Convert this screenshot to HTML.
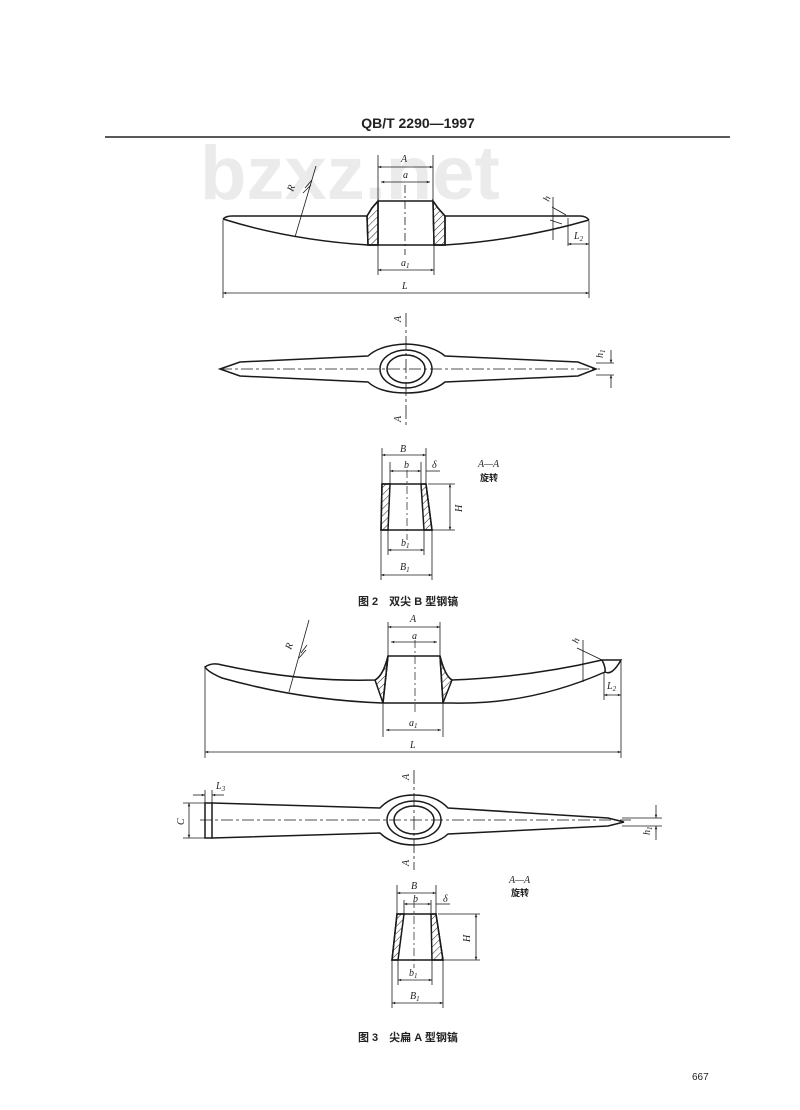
<!DOCTYPE html>
<html><head><meta charset="utf-8"><style>
html,body{margin:0;padding:0;background:#fff;}
svg{display:block;}
text{font-family:"Liberation Serif","Noto Serif CJK SC",serif;fill:#222;}
.i{font-style:italic;font-size:10px;}
.cn{font-family:"Liberation Sans","Noto Sans CJK SC",sans-serif;font-weight:bold;}
</style></head><body>
<svg width="800" height="1110" viewBox="0 0 800 1110" xmlns="http://www.w3.org/2000/svg">
<defs>
<pattern id="h" width="5" height="5" patternUnits="userSpaceOnUse" patternTransform="rotate(45)"><line x1="0" y1="0" x2="0" y2="5" stroke="#222" stroke-width="1"/></pattern>
<marker id="a" viewBox="0 0 10 10" refX="10" refY="5" markerWidth="5" markerHeight="4" orient="auto-start-reverse"><path d="M0,1 L10,5 L0,9z" fill="#222"/></marker>
</defs>
<rect width="800" height="1110" fill="#fff"/>
<text x="418" y="128" text-anchor="middle" font-size="14" font-weight="bold" style="font-family:'Liberation Sans',sans-serif">QB/T 2290—1997</text>
<line x1="105" y1="137" x2="730" y2="137" stroke="#222" stroke-width="1.4"/>
<text x="200" y="199" font-size="76" font-weight="bold" style="font-family:'Liberation Sans',sans-serif;fill:#ebebeb">bzxz.net</text>

<g fill="none" stroke="#1a1a1a" stroke-width="1.5">
<path d="M223,219 Q226,216 232,216 L367,216"/>
<path d="M223,219 Q290,240 368,245"/>
<path d="M445,216 L580,216 Q586,216 589,220"/>
<path d="M589,220 Q520,240 445,245"/>
<line x1="368" y1="245" x2="445" y2="245"/>
<path d="M367,216 L372,208 L378,201 L433,201 L438,208 L445,216 L445,245 L434,245 L433,201 M378,201 L378,245 L368,245 L367,216" />
<path d="M367,216 L372,208 L378,201 L378,245 L368,245 Z" fill="url(#h)"/>
<path d="M445,216 L438,208 L433,201 L434,245 L445,245 Z" fill="url(#h)"/>
<line x1="405" y1="185" x2="405" y2="255" stroke-dasharray="8,3,2,3" stroke-width="0.8"/>
<g stroke-width="0.8">
<line x1="378" y1="155" x2="378" y2="201"/><line x1="433" y1="155" x2="433" y2="201"/>
<line x1="378" y1="167" x2="433" y2="167" marker-start="url(#a)" marker-end="url(#a)"/>
<line x1="381" y1="182" x2="430" y2="182" marker-start="url(#a)" marker-end="url(#a)"/>
<line x1="378" y1="245" x2="378" y2="275"/><line x1="434" y1="245" x2="434" y2="275"/>
<line x1="378" y1="270" x2="434" y2="270" marker-start="url(#a)" marker-end="url(#a)"/>
<line x1="223" y1="220" x2="223" y2="298"/><line x1="589" y1="221" x2="589" y2="298"/>
<line x1="223" y1="293" x2="589" y2="293" marker-start="url(#a)" marker-end="url(#a)"/>
<line x1="295" y1="237" x2="316" y2="166"/>
<path d="M305,188 L312,180 M303,193 L311,185"/>
<line x1="552" y1="207" x2="566" y2="215"/><line x1="550" y1="220" x2="562" y2="224"/>
<line x1="553" y1="197" x2="553" y2="240"/>
<line x1="568" y1="218" x2="568" y2="246"/>
<line x1="568" y1="244" x2="589" y2="244" marker-start="url(#a)" marker-end="url(#a)"/>
</g>
<path d="M220,369 L240,362 L368,356 Q380,345 406,344 Q432,345 445,356 L578,362 L596,369 L578,376 L445,382 Q432,393 406,393 Q380,393 368,382 L240,376 Z"/>
<ellipse cx="406" cy="369" rx="26" ry="19"/>
<ellipse cx="406" cy="369" rx="19" ry="14"/>
<line x1="220" y1="369" x2="600" y2="369" stroke-dasharray="12,3,3,3" stroke-width="0.8"/>
<line x1="406" y1="313" x2="406" y2="425" stroke-width="0.8" stroke-dasharray="14,3,3,3"/>
<g stroke-width="0.8">
<line x1="596" y1="363" x2="614" y2="363"/><line x1="596" y1="375" x2="614" y2="375"/>
<line x1="611" y1="350" x2="611" y2="363" marker-end="url(#a)"/><line x1="611" y1="388" x2="611" y2="375" marker-end="url(#a)"/>
</g>
<path d="M382,484 L426,484 L432,530 L381,530 Z"/>
<path d="M382,484 L390,484 L388,530 L381,530 Z" fill="url(#h)"/>
<path d="M421,484 L426,484 L432,530 L424,530 Z" fill="url(#h)"/>
<line x1="407" y1="470" x2="407" y2="540" stroke-width="0.7" stroke-dasharray="8,3,2,3"/>
<g stroke-width="0.8">
<line x1="382" y1="448" x2="382" y2="484"/><line x1="426" y1="448" x2="426" y2="484"/>
<line x1="382" y1="455" x2="426" y2="455" marker-start="url(#a)" marker-end="url(#a)"/>
<line x1="390" y1="462" x2="390" y2="484"/><line x1="421" y1="462" x2="421" y2="484"/>
<line x1="390" y1="471" x2="421" y2="471" marker-start="url(#a)" marker-end="url(#a)"/>
<line x1="426" y1="471" x2="440" y2="471"/>
<line x1="428" y1="484" x2="455" y2="484"/><line x1="432" y1="530" x2="455" y2="530"/>
<line x1="450" y1="484" x2="450" y2="530" marker-start="url(#a)" marker-end="url(#a)"/>
<line x1="388" y1="530" x2="388" y2="555"/><line x1="424" y1="530" x2="424" y2="555"/>
<line x1="388" y1="550" x2="424" y2="550" marker-start="url(#a)" marker-end="url(#a)"/>
<line x1="381" y1="530" x2="381" y2="580"/><line x1="432" y1="530" x2="432" y2="580"/>
<line x1="381" y1="575" x2="432" y2="575" marker-start="url(#a)" marker-end="url(#a)"/>
</g>

<path d="M205,667 Q212,662 222,665 Q300,682 375,680 Q383,676 388,656 L440,656 Q445,676 452,680 Q530,677 602,660 L621,660 Q612,676 605,672 Q530,705 452,703 L383,703 Q300,700 222,678 Q208,672 205,667 Z"/>
<path d="M383,703 L375,680 Q383,676 388,656 Z" fill="url(#h)"/>
<path d="M443,703 L452,680 Q445,676 440,656 Z" fill="url(#h)"/>
<line x1="388" y1="656" x2="383" y2="703"/><line x1="440" y1="656" x2="443" y2="703"/>
<path d="M602,660 Q606,668 605,672"/>
<line x1="415" y1="640" x2="415" y2="715" stroke-width="0.7" stroke-dasharray="8,3,2,3"/>
<g stroke-width="0.8">
<line x1="388" y1="622" x2="388" y2="656"/><line x1="440" y1="622" x2="440" y2="656"/>
<line x1="388" y1="627" x2="440" y2="627" marker-start="url(#a)" marker-end="url(#a)"/>
<line x1="391" y1="642" x2="437" y2="642" marker-start="url(#a)" marker-end="url(#a)"/>
<line x1="383" y1="703" x2="383" y2="737"/><line x1="443" y1="703" x2="443" y2="737"/>
<line x1="386" y1="730" x2="441" y2="730" marker-start="url(#a)" marker-end="url(#a)"/>
<line x1="205" y1="668" x2="205" y2="758"/><line x1="621" y1="661" x2="621" y2="758"/>
<line x1="205" y1="752" x2="621" y2="752" marker-start="url(#a)" marker-end="url(#a)"/>
<line x1="289" y1="692" x2="309" y2="620"/>
<path d="M301,653 L307,645 M299,658 L306,650"/>
<line x1="577" y1="648" x2="602" y2="660"/>
<line x1="583" y1="640" x2="583" y2="682"/>
<line x1="604" y1="672" x2="604" y2="700"/>
<line x1="604" y1="695" x2="621" y2="695" marker-start="url(#a)" marker-end="url(#a)"/>
</g>
<path d="M205,803 L212,803 L212,838 L205,838 Z"/>
<path d="M212,803 L380,808 Q392,795 414,795 Q436,795 448,808 L608,818 L624,822 L608,826 L448,834 Q436,845 414,845 Q392,845 380,833 L212,838"/>
<ellipse cx="414" cy="820" rx="27" ry="19"/>
<ellipse cx="414" cy="820" rx="20" ry="14"/>
<line x1="200" y1="820" x2="631" y2="820" stroke-dasharray="12,3,3,3" stroke-width="0.8"/>
<line x1="414" y1="770" x2="414" y2="870" stroke-width="0.8" stroke-dasharray="14,3,3,3"/>
<g stroke-width="0.8">
<line x1="183" y1="803" x2="205" y2="803"/><line x1="183" y1="838" x2="205" y2="838"/>
<line x1="189" y1="803" x2="189" y2="838" marker-start="url(#a)" marker-end="url(#a)"/>
<line x1="205" y1="790" x2="205" y2="803"/><line x1="212" y1="790" x2="212" y2="803"/>
<line x1="193" y1="795" x2="205" y2="795" marker-end="url(#a)"/><line x1="224" y1="795" x2="212" y2="795" marker-end="url(#a)"/>
<line x1="622" y1="818" x2="662" y2="818"/><line x1="622" y1="826" x2="662" y2="826"/>
<line x1="656" y1="805" x2="656" y2="818" marker-end="url(#a)"/><line x1="656" y1="840" x2="656" y2="826" marker-end="url(#a)"/>
</g>
<path d="M397,914 L436,914 L443,960 L392,960 Z"/>
<path d="M397,914 L404,914 L398,960 L392,960 Z" fill="url(#h)"/>
<path d="M431,914 L436,914 L443,960 L432,960 Z" fill="url(#h)"/>
<line x1="414" y1="900" x2="414" y2="968" stroke-width="0.7" stroke-dasharray="8,3,2,3"/>
<g stroke-width="0.8">
<line x1="397" y1="885" x2="397" y2="914"/><line x1="436" y1="885" x2="436" y2="914"/>
<line x1="397" y1="893" x2="436" y2="893" marker-start="url(#a)" marker-end="url(#a)"/>
<line x1="404" y1="900" x2="404" y2="914"/><line x1="431" y1="900" x2="431" y2="914"/>
<line x1="404" y1="904" x2="431" y2="904" marker-start="url(#a)" marker-end="url(#a)"/>
<line x1="436" y1="904" x2="450" y2="904"/>
<line x1="438" y1="914" x2="480" y2="914"/><line x1="443" y1="960" x2="480" y2="960"/>
<line x1="476" y1="914" x2="476" y2="960" marker-start="url(#a)" marker-end="url(#a)"/>
<line x1="398" y1="960" x2="398" y2="985"/><line x1="432" y1="960" x2="432" y2="985"/>
<line x1="398" y1="980" x2="432" y2="980" marker-start="url(#a)" marker-end="url(#a)"/>
<line x1="392" y1="960" x2="392" y2="1008"/><line x1="443" y1="960" x2="443" y2="1008"/>
<line x1="392" y1="1003" x2="443" y2="1003" marker-start="url(#a)" marker-end="url(#a)"/>
</g>
</g>

<text class="i" x="401" y="162">A</text>
<text class="i" x="403" y="178" font-size="8">a</text>
<text class="i" x="401" y="266">a<tspan font-size="7" dy="2">1</tspan></text>
<text class="i" x="402" y="289">L</text>
<text class="i" x="293" y="192" transform="rotate(-70 293 192)">R</text>
<text class="i" x="549" y="202" font-size="8" transform="rotate(-70 549 202)">h</text>
<text class="i" x="574" y="239" font-size="9">L<tspan font-size="7" dy="2">2</tspan></text>
<text class="i" x="401" y="322" transform="rotate(-90 401 322)">A</text>
<text class="i" x="401" y="422" transform="rotate(-90 401 422)">A</text>
<text class="i" x="603" y="358" transform="rotate(-90 603 358)">h<tspan font-size="7" dy="2">1</tspan></text>
<text class="i" x="400" y="452">B</text>
<text class="i" x="404" y="468" font-size="9">b</text>
<text class="i" x="432" y="468" font-size="9">δ</text>
<text class="i" x="462" y="512" transform="rotate(-90 462 512)">H</text>
<text class="i" x="401" y="546">b<tspan font-size="7" dy="2">1</tspan></text>
<text class="i" x="400" y="570">B<tspan font-size="7" dy="2">1</tspan></text>
<text class="i" x="478" y="467" font-size="9">A—A</text>
<text class="cn" x="480" y="481" font-size="9">旋转</text>
<text class="cn" x="358" y="605" font-size="11">图 2　双尖 B 型钢镐</text>
<text class="i" x="410" y="622">A</text>
<text class="i" x="412" y="639" font-size="8">a</text>
<text class="i" x="409" y="726">a<tspan font-size="7" dy="2">1</tspan></text>
<text class="i" x="410" y="748">L</text>
<text class="i" x="291" y="650" transform="rotate(-70 291 650)">R</text>
<text class="i" x="578" y="644" font-size="8" transform="rotate(-70 578 644)">h</text>
<text class="i" x="607" y="689" font-size="9">L<tspan font-size="7" dy="2">2</tspan></text>
<text class="i" x="409" y="780" transform="rotate(-90 409 780)">A</text>
<text class="i" x="409" y="866" transform="rotate(-90 409 866)">A</text>
<text class="i" x="184" y="825" transform="rotate(-90 184 825)">C</text>
<text class="i" x="216" y="789" font-size="9">L<tspan font-size="7" dy="2">3</tspan></text>
<text class="i" x="650" y="835" transform="rotate(-90 650 835)">h<tspan font-size="7" dy="2">1</tspan></text>
<text class="i" x="411" y="889">B</text>
<text class="i" x="413" y="902" font-size="9">b</text>
<text class="i" x="443" y="902" font-size="9">δ</text>
<text class="i" x="470" y="942" transform="rotate(-90 470 942)">H</text>
<text class="i" x="409" y="976">b<tspan font-size="7" dy="2">1</tspan></text>
<text class="i" x="410" y="999">B<tspan font-size="7" dy="2">1</tspan></text>
<text class="i" x="509" y="883" font-size="9">A—A</text>
<text class="cn" x="511" y="896" font-size="9">旋转</text>
<text class="cn" x="358" y="1041" font-size="11">图 3　尖扁 A 型钢镐</text>
<text x="692" y="1080" font-size="10" style="font-family:'Liberation Sans',sans-serif">667</text>
</svg>
</body></html>
